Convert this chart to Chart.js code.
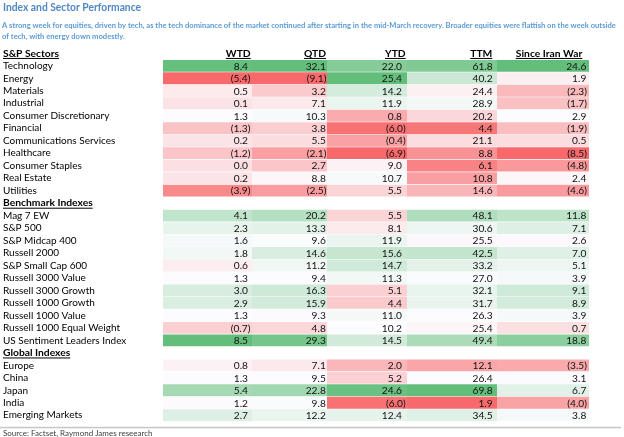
<!DOCTYPE html>
<html><head><meta charset="utf-8">
<script src="https://cdn.jsdelivr.net/npm/chart.js@4"></script>
<style>html,body{margin:0;padding:0;background:#fff;} #wrap{width:624px;height:437px;position:relative;}</style>
</head><body><div id="wrap"><canvas id="c" width="624" height="437"></canvas></div>
<script>
// ---------- data ----------
const TITLE = 'Index and Sector Performance';
const SUBTITLE = [
  'A strong week for equities, driven by tech, as the tech dominance of the market continued after starting in the mid-March recovery. Broader equities were flattish on the week outside',
  'of tech, with energy down modestly.'
];
const SOURCE = 'Source: Factset, Raymond James reseearch';
const sectionTitles = ['S&P Sectors', 'Benchmark Indexes', 'Global Indexes'];
const sectorRows = ['Technology','Energy','Materials','Industrial','Consumer Discretionary','Financial','Communications Services','Healthcare','Consumer Staples','Real Estate','Utilities'];
const benchmarkRows = ['Mag 7 EW','S&P 500','S&P Midcap 400','Russell 2000','S&P Small Cap 600','Russell 3000 Value','Russell 3000 Growth','Russell 1000 Growth','Russell 1000 Value','Russell 1000 Equal Weight','US Sentiment Leaders Index'];
const globalRows = ['Europe','China','Japan','India','Emerging Markets'];
const columnLabels = ['WTD','QTD','YTD','TTM','Since Iran War'];
// values in row order: sectors, benchmark indexes, global indexes
const WTD = [8.4,-5.4,0.5,0.1,1.3,-1.3,0.2,-1.2,0.0,0.2,-3.9, 4.1,2.3,1.6,1.8,0.6,1.3,3.0,2.9,1.3,-0.7,8.5, 0.8,1.3,5.4,1.2,2.7];
const QTD = [32.1,-9.1,3.2,7.1,10.3,3.8,5.5,-2.1,2.7,8.8,-2.5, 20.2,13.3,9.6,14.6,11.2,9.4,16.3,15.9,9.3,4.8,29.3, 7.1,9.5,22.8,9.8,12.2];
const YTD = [22.0,25.4,14.2,11.9,0.8,-6.0,-0.4,-6.9,9.0,10.7,5.5, 5.5,8.1,11.9,15.6,14.7,11.3,5.1,4.4,11.0,10.2,14.5, 2.0,5.2,24.6,-6.0,12.4];
const TTM = [61.8,40.2,24.4,28.9,20.2,4.4,21.1,8.8,6.1,10.8,14.6, 48.1,30.6,25.5,42.5,33.2,27.0,32.1,31.7,26.3,25.4,49.4, 12.1,26.4,69.8,1.9,34.5];
const SIW = [24.6,1.9,-2.3,-1.7,2.9,-1.9,0.5,-8.5,-4.8,2.4,-4.6, 11.8,7.1,2.6,7.0,5.1,3.9,9.1,8.9,3.9,0.7,18.8, -3.5,3.1,6.7,-4.0,3.8];
const columnValues = [WTD, QTD, YTD, TTM, SIW];

// ---------- layout / style ----------
const FONT = 'Lato';
const COL_WIDTHS = [89, 75, 80, 90, 92];
const POS_PAD = [4, 1.2, 5, 4.4, 2.7];
const NEG_PAD = [1.6, 0.6, 1.3, 1.6, 2];
const HEAD_PAD = [1.3, 1, 1.3, 4.7, 6.7];
const RED = [248,105,107], MID = [252,252,255], GREEN = [99,190,123];

const edges = [0];
COL_WIDTHS.forEach(w => edges.push(edges[edges.length-1] + w));

// rows (headers interleaved)
const rows = [];
let vi = 0;
[[sectionTitles[0], sectorRows],[sectionTitles[1], benchmarkRows],[sectionTitles[2], globalRows]].forEach(([t, list]) => {
  rows.push({label: t, header: true});
  list.forEach(n => rows.push({label: n, header: false, vi: vi++}));
});
const labels = rows.map(r => r.label);

function median(arr){
  const s = arr.slice().sort((a,b)=>a-b);
  const m = (s.length-1)/2;
  return (s[Math.floor(m)] + s[Math.ceil(m)]) / 2;
}
function mix(a,b,t){ return a.map((v,i)=>Math.round(v+(b[i]-v)*t)); }
function scaleColor(vals){
  const mn = Math.min(...vals), mx = Math.max(...vals), md = median(vals);
  return v => {
    let c;
    if (v >= md) c = mix(MID, GREEN, mx===md?0:(v-md)/(mx-md));
    else c = mix(MID, RED, (md-v)/(md-mn));
    return `rgb(${c[0]},${c[1]},${c[2]})`;
  };
}

const datasets = columnValues.map((vals, c) => {
  const col = scaleColor(vals);
  return {
    label: columnLabels[c],
    data: rows.map(r => r.header ? null : [edges[c], edges[c+1]]),
    backgroundColor: rows.map(r => r.header ? 'rgba(0,0,0,0)' : col(vals[r.vi])),
    borderWidth: 0,
    grouped: false,
    barPercentage: 0.95,
    categoryPercentage: 1
  };
});

function fmt(v){ const s = Math.abs(v).toFixed(1); return v < 0 ? '(' + s + ')' : s; }

const tablePlugin = {
  id: 'tableText',
  afterDraw(chart){
    const ctx = chart.ctx, xs = chart.scales.x, ys = chart.scales.y;
    ctx.save();
    ctx.textBaseline = 'middle';
    // title + subtitle
    ctx.fillStyle = '#4f87c5';
    ctx.font = `bold 12px ${FONT}`;
    ctx.textAlign = 'left';
    ctx.fillText(TITLE, 3, 7.5, 138);
    ctx.fillStyle = '#5b9bd5';
    ctx.font = `bold 7.6px ${FONT}`;
    ctx.fillText(SUBTITLE[0], 2, 25.5, 620);
    ctx.fillText(SUBTITLE[1], 2, 36.5);
    // section header underlines
    ctx.fillStyle = '#000';
    ctx.font = `bold 10.3px ${FONT}`;
    rows.forEach((r, i) => {
      if (!r.header) return;
      const y = ys.getPixelForTick(i);
      const w = ctx.measureText(r.label).width;
      ctx.fillRect(3, y + 4.6, w, 1);
    });
    // column headers
    ctx.textAlign = 'right';
    const yh = ys.getPixelForTick(0);
    columnLabels.forEach((t, c) => {
      const x = xs.getPixelForValue(edges[c+1]) - HEAD_PAD[c];
      ctx.fillText(t, x, yh);
      const w = ctx.measureText(t).width;
      ctx.fillRect(x - w, yh + 4.6, w, 1);
    });
    // values
    ctx.font = `10.2px ${FONT}`;
    ctx.fillStyle = '#111';
    columnValues.forEach((vals, c) => {
      const right = xs.getPixelForValue(edges[c+1]);
      rows.forEach((r, i) => {
        if (r.header) return;
        const v = vals[r.vi];
        const x = v < 0 ? right - NEG_PAD[c] : right - POS_PAD[c];
        ctx.fillText(fmt(v), x, ys.getPixelForTick(i) + 0.5);
      });
    });
    // bottom rule + source
    ctx.fillStyle = '#c6c6c6';
    ctx.fillRect(0, 426.8, 621, 1.5);
    ctx.fillStyle = '#404040';
    ctx.textAlign = 'left';
    ctx.font = `8px ${FONT}`;
    ctx.fillText(SOURCE, 3, 433.5);
    ctx.restore();
  }
};

new Chart(document.getElementById('c'), {
  type: 'bar',
  data: { labels, datasets },
  options: {
    indexAxis: 'y',
    responsive: false,
    animation: false,
    layout: { padding: { left: 3, right: 35, top: 47.1, bottom: 15.5 } },
    plugins: { legend: { display: false }, tooltip: { enabled: false } },
    scales: {
      x: { type: 'linear', min: 0, max: edges[edges.length-1], display: false },
      y: {
        type: 'category',
        grid: { display: false },
        border: { display: false },
        ticks: {
          autoSkip: false,
          crossAlign: 'far',
          padding: 0,
          color: '#000',
          font: (c) => ({ family: FONT, size: rows[c.index] && rows[c.index].header ? 10.3 : 10, weight: rows[c.index] && rows[c.index].header ? 'bold' : 'normal' })
        },
        afterFit: (s) => { s.width = 160; }
      }
    }
  },
  plugins: [tablePlugin]
});
</script>
</body></html>
